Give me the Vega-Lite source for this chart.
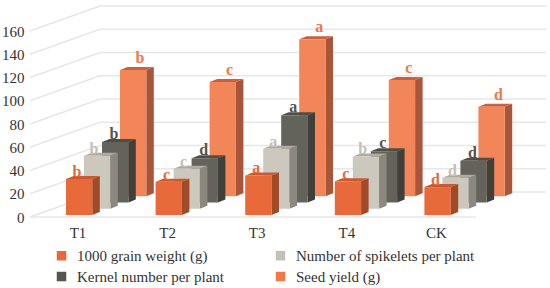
{
"$schema":"https://vega.github.io/schema/vega-lite/v6.json",
"width":550,"height":288,"padding":0,"autosize":{"type":"none"},"background":"white",
"config":{"view":{"stroke":null},"font":"Liberation Serif"},
"datasets":{
"ticks":[{"tick":0},{"tick":20},{"tick":40},{"tick":60},{"tick":80},{"tick":100},{"tick":120},{"tick":140},{"tick":160}],
"bars":[
{"treatment":"T1","series":"Seed yield (g)","value":108.6,"letter":"b"},
{"treatment":"T2","series":"Seed yield (g)","value":98.3,"letter":"c"},
{"treatment":"T3","series":"Seed yield (g)","value":135,"letter":"a"},
{"treatment":"T4","series":"Seed yield (g)","value":100,"letter":"c"},
{"treatment":"CK","series":"Seed yield (g)","value":77,"letter":"d"},
{"treatment":"T1","series":"Kernel number per plant","value":52,"letter":"b"},
{"treatment":"T2","series":"Kernel number per plant","value":38,"letter":"d"},
{"treatment":"T3","series":"Kernel number per plant","value":75,"letter":"a"},
{"treatment":"T4","series":"Kernel number per plant","value":44,"letter":"c"},
{"treatment":"CK","series":"Kernel number per plant","value":36,"letter":"d"},
{"treatment":"T1","series":"Number of spikelets per plant","value":45.6,"letter":"b"},
{"treatment":"T2","series":"Number of spikelets per plant","value":34.4,"letter":"c"},
{"treatment":"T3","series":"Number of spikelets per plant","value":51.6,"letter":"a"},
{"treatment":"T4","series":"Number of spikelets per plant","value":45,"letter":"b"},
{"treatment":"CK","series":"Number of spikelets per plant","value":26.7,"letter":"d"},
{"treatment":"T1","series":"1000 grain weight (g)","value":31,"letter":"b"},
{"treatment":"T2","series":"1000 grain weight (g)","value":28.6,"letter":"c"},
{"treatment":"T3","series":"1000 grain weight (g)","value":34,"letter":"a"},
{"treatment":"T4","series":"1000 grain weight (g)","value":29,"letter":"c"},
{"treatment":"CK","series":"1000 grain weight (g)","value":24,"letter":"d"}
]},
"resolve":{"scale":{"x":"independent","color":"independent"},"axis":{"x":"independent","y":"independent"},"legend":{"color":"independent"}},
"layer":[
{"data":{"name":"ticks"},
 "transform":[{"calculate":"datum.tick+21.5","as":"back"}],
 "mark":{"type":"rule","color":"#E7E7E7","strokeWidth":1.5},
 "encoding":{
  "x":{"datum":0,"type":"quantitative","scale":{"domain":[0,1],"range":[100,546]},"axis":null},
  "x2":{"datum":1},
  "y":{"field":"back","type":"quantitative","scale":{"domain":[0,160],"range":[217,31],"nice":false,"zero":false},"axis":{"values":[0,20,40,60,80,100,120,140,160],"title":null,"domain":false,"ticks":false,"grid":false,"labelFontSize":15,"labelColor":"#333333","labelPadding":0,"labelOverlap":false,"offset":-24}}
 }},
{"data":{"name":"ticks"},
 "transform":[{"calculate":"datum.tick+21.5","as":"back"}],
 "mark":{"type":"rule","color":"#E7E7E7","strokeWidth":1.5},
 "encoding":{
  "x":{"datum":0,"type":"quantitative","scale":{"domain":[0,1],"range":[30,100]},"axis":null},
  "x2":{"datum":1},
  "y":{"field":"tick","type":"quantitative","axis":null},
  "y2":{"field":"back"}
 }},
{"data":{"name":"ticks"},
 "transform":[{"filter":"datum.tick==0"}],
 "mark":{"type":"rule","color":"#E7E7E7","strokeWidth":1.5},
 "encoding":{
  "x":{"datum":0,"type":"quantitative","scale":{"domain":[0,1],"range":[30,476]},"axis":null},
  "x2":{"datum":1},
  "y":{"field":"tick","type":"quantitative","axis":null}
 }},
{"data":{"name":"bars"},
 "transform":[
  {"calculate":"indexof(['1000 grain weight (g)','Number of spikelets per plant','Kernel number per plant','Seed yield (g)'],datum.series)","as":"s"},
  {"calculate":"indexof(['T1','T2','T3','T4','CK'],datum.treatment)","as":"t"},
  {"calculate":"66+89.6*datum.t+18*datum.s","as":"L"},
  {"calculate":"1.72+5.38*datum.s","as":"b"},
  {"calculate":"datum.b+datum.value","as":"T"},
  {"calculate":"[{f:'side',k:0,x:datum.L+26.3,y:datum.T,y2:datum.b},{f:'side',k:1,x:datum.L+33.8,y:datum.T+2.58,y2:datum.b+2.58},{f:'top',k:0,x:datum.L,y:datum.T,y2:datum.T},{f:'top',k:1,x:datum.L+7.5,y:datum.T,y2:datum.T+2.58},{f:'top',k:2,x:datum.L+26.3,y:datum.T,y2:datum.T+2.58},{f:'top',k:3,x:datum.L+33.8,y:datum.T+2.58,y2:datum.T+2.58},{f:'front',k:0,x:datum.L,y:datum.T,y2:datum.b},{f:'front',k:1,x:datum.L+26.3,y:datum.T,y2:datum.b}]","as":"pts"},
  {"flatten":["pts"]},
  {"calculate":"datum.pts.x","as":"px"},
  {"calculate":"datum.pts.y","as":"py"},
  {"calculate":"datum.pts.y2","as":"py2"},
  {"calculate":"datum.s+'-'+datum.pts.f","as":"face"},
  {"calculate":"datum.treatment+'-'+datum.face","as":"gid"}
 ],
 "mark":{"type":"area"},
 "encoding":{
  "x":{"field":"px","type":"quantitative","scale":{"domain":[0,550],"range":[0,550],"zero":false,"nice":false},"axis":null},
  "y":{"field":"py","type":"quantitative","axis":null},
  "y2":{"field":"py2"},
  "detail":{"field":"gid"},
  "color":{"field":"face","type":"nominal","legend":null,"scale":{"domain":["0-front","0-side","0-top","1-front","1-side","1-top","2-front","2-side","2-top","3-front","3-side","3-top"],"range":["#E8693A","#A04A28","#C65A32","#CDC8BD","#8C887F","#B0ABA0","#63635B","#40403A","#4E4E47","#F28659","#A9553A","#C9603E"]}}
 }},
{"data":{"name":"bars"},
 "transform":[
  {"calculate":"indexof(['1000 grain weight (g)','Number of spikelets per plant','Kernel number per plant','Seed yield (g)'],datum.series)","as":"s"},
  {"calculate":"-11+18*datum.s+[11,10,12,20][datum.s]","as":"lx"},
  {"calculate":"1.72+5.38*datum.s+datum.value+[1.7,1.7,2.6,6][datum.s]","as":"ly"}
 ],
 "mark":{"type":"text","fontWeight":"bold","fontSize":16,"align":"center","baseline":"alphabetic"},
 "encoding":{
  "x":{"field":"treatment","type":"nominal","scale":{"type":"band","domain":["T1","T2","T3","T4","CK"],"range":[32.2,480.2],"paddingInner":0,"paddingOuter":0},"axis":{"title":null,"domain":false,"ticks":false,"labelAngle":0,"labelFontSize":15,"labelColor":"#333333","labelPadding":0,"labelOffset":1,"offset":-63}},
  "xOffset":{"field":"lx","type":"quantitative","scale":{"domain":[-100,100],"range":[-55.2,144.8]}},
  "y":{"field":"ly","type":"quantitative","axis":null},
  "text":{"field":"letter"},
  "color":{"field":"series","type":"nominal","scale":{"domain":["1000 grain weight (g)","Kernel number per plant","Number of spikelets per plant","Seed yield (g)"],"range":["#E8693A","#55554D","#C4C0B6","#F0784A"]},
   "legend":{"orient":"none","legendX":54,"legendY":248,"columns":2,"title":null,"symbolType":"square","symbolSize":90,"labelFontSize":15,"labelColor":"#333333","columnPadding":48,"rowPadding":5,"labelOffset":8,"labelLimit":300}}
 }}
]
}
